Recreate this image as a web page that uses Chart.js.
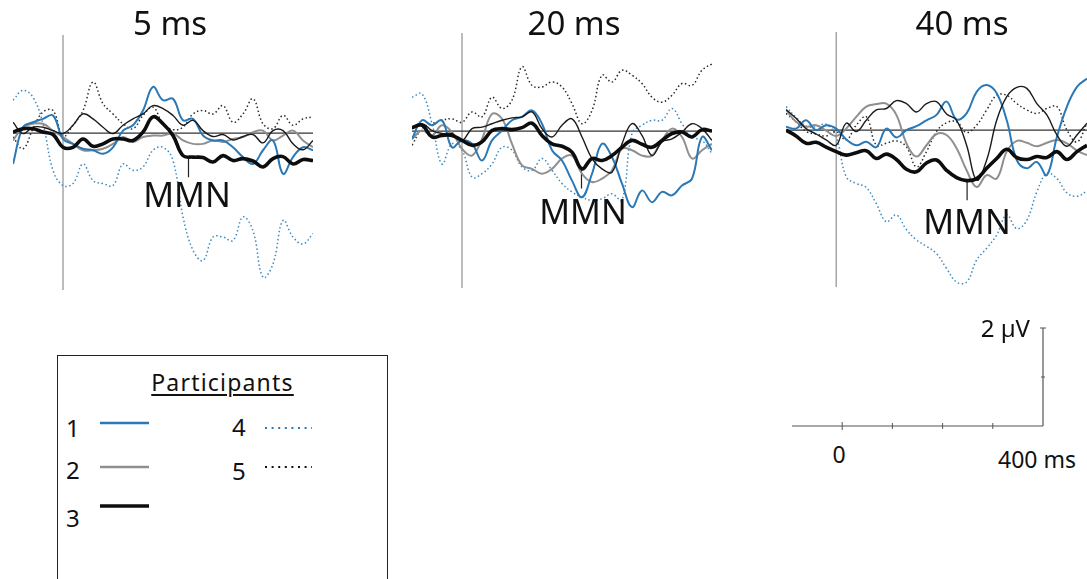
<!DOCTYPE html>
<html>
<head>
<meta charset="utf-8">
<script src="https://cdn.jsdelivr.net/npm/chart.js@4.4.1/dist/chart.umd.min.js"></script>
<style>
  body { margin: 0; width: 1087px; height: 579px; background: #fff; position: relative; overflow: hidden;
         font-family: "Noto Sans", "DejaVu Sans", sans-serif; color: #111; }
  canvas { position: absolute; }
  .lbl { position: absolute; white-space: nowrap; line-height: 1; }
  .title { font-size: 33px; transform: translateX(-50%); }
  .mmn { font-size: 34px; transform: translateX(-50%); }
  .legend { position: absolute; left: 57px; top: 355px; width: 329px; height: 240px; border: 1.3px solid #222; }
  .legend .lbl { font-size: 24px; }
  .legend svg { position: absolute; }
  .scale { font-size: 23px; }
</style>
</head>
<body>

<canvas id="panel0" width="300" height="255" style="left:13px; top:35px;"></canvas>
<canvas id="panel1" width="300" height="255" style="left:412px; top:33px;"></canvas>
<canvas id="panel2" width="301" height="255" style="left:786px; top:32px;"></canvas>
<canvas id="scalebar" width="272" height="118" style="left:782px; top:318px;"></canvas>

<div class="lbl title" style="left:170px; top:6px;">5 ms</div>
<div class="lbl title" style="left:574px; top:6px;">20 ms</div>
<div class="lbl title" style="left:962px; top:6px;">40 ms</div>

<div class="lbl mmn" style="left:187px; top:177px;">MMN</div>
<div class="lbl mmn" style="left:583px; top:194px;">MMN</div>
<div class="lbl mmn" style="left:967px; top:204px;">MMN</div>

<div class="lbl scale" style="right:57px; top:316px; font-size:24px;">2 µV</div>
<div class="lbl scale" style="left:839px; top:443px; transform:translateX(-50%);">0</div>
<div class="lbl scale" style="left:998px; top:448px;">400 ms</div>

<div class="legend">
  <div class="lbl" style="left:50%; top:15px; transform:translateX(-50%); font-size:23px; letter-spacing:1.2px; text-decoration:underline; text-underline-offset:3px;">Participants</div>
  <div class="lbl" style="left:8px; top:60px;">1</div>
  <div class="lbl" style="left:8px; top:102px;">2</div>
  <div class="lbl" style="left:8px; top:150px;">3</div>
  <div class="lbl" style="left:174px; top:59px;">4</div>
  <div class="lbl" style="left:174px; top:103px;">5</div>
  <svg style="left:42px; top:63px;" width="50" height="8"><line x1="0" y1="4" x2="49" y2="4" stroke="#2a78b6" stroke-width="2.6"/></svg>
  <svg style="left:42px; top:107px;" width="50" height="8"><line x1="0" y1="4" x2="49" y2="4" stroke="#8f8f8f" stroke-width="2.6"/></svg>
  <svg style="left:42px; top:146px;" width="50" height="8"><line x1="0" y1="4" x2="49" y2="4" stroke="#0d0d0d" stroke-width="3.4"/></svg>
  <svg style="left:206px; top:68px;" width="50" height="8"><line x1="1" y1="4" x2="48" y2="4" stroke="#2a78b6" stroke-width="2" stroke-dasharray="2 4.6"/></svg>
  <svg style="left:206px; top:107px;" width="50" height="8"><line x1="1" y1="4" x2="48" y2="4" stroke="#111" stroke-width="2" stroke-dasharray="2 4.6"/></svg>
</div>

<script>
// time axis (ms) shared by every waveform
const times = [-100, -80, -60, -40, -20, 0, 20, 40, 60, 80, 100, 120, 140, 160, 180, 200,
               220, 240, 260, 280, 300, 320, 340, 360, 380, 400, 420, 440, 460, 480, 500];

// 5 ms panel (µV)
const ms5_p1 = [-0.63, 0.12, 0.22, 0.29, 0.36, -0.12, -0.22, -0.32, -0.35, -0.42, -0.29, 0.05, 0.16, 0.46, 0.94, 0.67, 0.70, 0.26, 0.29, -0.05, -0.15, -0.15, -0.29, -0.49, -0.63, -0.35, -0.15, -0.83, -0.49, -0.29, -0.35];
const ms5_p2 = [-0.15, 0.12, 0.19, 0.19, 0.05, -0.08, -0.22, -0.35, -0.35, -0.32, -0.22, -0.08, -0.18, -0.08, -0.05, -0.05, -0.01, -0.15, -0.22, -0.22, -0.15, -0.18, -0.12, -0.08, 0.02, 0.05, -0.15, -0.05, 0.05, -0.15, -0.29];
const ms5_p3 = [0.02, 0.09, 0.09, 0.02, -0.03, -0.29, -0.29, -0.12, -0.27, -0.22, -0.12, -0.12, -0.15, 0.02, 0.33, 0.19, -0.05, -0.46, -0.49, -0.50, -0.59, -0.46, -0.56, -0.52, -0.57, -0.69, -0.52, -0.48, -0.63, -0.54, -0.56];
const ms5_thin = [0.22, -0.01, 0.12, 0.12, 0.05, -0.01, 0.16, 0.39, 0.29, 0.12, -0.01, 0.16, 0.29, 0.39, 0.56, 0.50, 0.36, 0.16, 0.26, 0.05, -0.07, -0.03, -0.14, -0.07, -0.03, -0.20, 0.05, 0.05, -0.22, -0.34, -0.15];
const ms5_p4 = [0.67, 0.87, 0.73, 0.19, -0.76, -1.07, -1.03, -0.63, -0.97, -1.03, -1.07, -0.63, -0.76, -0.69, -0.35, -0.29, -0.56, -1.71, -2.39, -2.60, -2.12, -2.12, -2.19, -1.71, -1.99, -2.94, -2.67, -1.78, -2.12, -2.26, -2.05];
const ms5_p5 = [-0.08, -0.32, 0.09, 0.43, 0.46, -0.07, 0.16, 0.46, 1.04, 0.60, 0.39, 0.19, 0.09, 0.36, 0.53, 0.19, 0.07, 0.12, 0.39, 0.46, 0.39, 0.56, 0.22, 0.39, 0.70, 0.19, 0.09, 0.36, 0.16, 0.29, 0.33];

// 20 ms panel
const ms20_p1 = [-0.16, 0.22, 0.12, 0.22, -0.33, -0.19, -0.26, -0.60, -0.19, 0.01, 0.22, 0.29, 0.42, 0.15, -0.39, -0.60, -1.01, -1.35, -0.87, -0.26, -0.53, -1.07, -1.55, -1.21, -1.45, -1.24, -1.31, -1.11, -0.97, -0.12, -0.39];
const ms20_p2 = [-0.16, 0.01, -0.09, 0.12, -0.02, -0.36, -0.50, -0.16, 0.35, 0.25, -0.26, -0.70, -0.77, -0.87, -0.77, -0.56, -0.50, -0.87, -1.04, -0.97, -0.80, -0.36, -0.39, -0.50, -0.50, -0.19, 0.05, -0.12, -0.56, -0.39, -0.26];
const ms20_p3 = [0.07, 0.12, -0.12, -0.09, -0.09, -0.19, -0.29, -0.22, 0.01, 0.05, 0.03, 0.07, 0.16, -0.09, -0.26, -0.31, -0.43, -0.77, -0.56, -0.60, -0.50, -0.33, -0.19, -0.27, -0.33, -0.19, -0.05, -0.02, -0.12, 0.03, 0.00];
const ms20_thin = [0.05, 0.15, 0.01, -0.05, -0.05, -0.19, 0.05, 0.08, 0.15, 0.22, 0.27, 0.29, 0.39, 0.05, -0.12, 0.12, 0.25, -0.12, -0.56, -0.77, -0.84, -0.26, 0.15, -0.09, -0.50, -0.22, -0.16, -0.02, 0.15, 0.05, -0.19];
const ms20_p4 = [0.69, 0.76, 0.15, -0.67, -0.26, -0.39, -0.94, -0.87, -0.67, -0.33, -0.39, -0.73, -0.80, -0.56, -0.80, -1.07, -1.24, -1.35, -1.41, -1.38, -1.28, -1.41, -0.05, 0.12, 0.22, 0.22, 0.46, 0.15, -0.12, -0.19, -0.46];
const ms20_p5 = [-0.29, 0.05, 0.15, 0.22, 0.25, 0.18, 0.39, 0.29, 0.69, 0.46, 0.63, 1.31, 0.93, 0.90, 1.00, 0.90, 0.56, 0.15, 0.42, 1.14, 1.00, 1.24, 1.14, 0.97, 0.69, 0.59, 0.73, 0.97, 0.93, 1.24, 1.37];

// 40 ms panel
const ms40_p1 = [0.07, 0.03, 0.20, 0.00, 0.10, 0.03, -0.19, -0.31, -0.24, -0.35, 0.03, -0.15, 0.00, 0.08, 0.20, 0.31, 0.58, 0.22, 0.34, 0.78, 0.92, 0.75, 0.20, -0.61, -0.78, -0.65, -0.92, -0.14, 0.48, 0.88, 1.05];
const ms40_p2 = [0.41, 0.17, 0.07, 0.10, -0.01, -0.12, 0.03, 0.27, 0.48, 0.53, 0.54, 0.31, -0.27, -0.54, -0.31, -0.08, -0.10, -0.37, -0.82, -1.16, -0.92, -0.99, -0.44, -0.22, -0.26, -0.33, -0.26, -0.20, -0.27, -0.42, -0.51];
const ms40_p3 = [0.00, -0.12, -0.27, -0.25, -0.35, -0.44, -0.51, -0.46, -0.42, -0.58, -0.49, -0.60, -0.80, -0.85, -0.67, -0.61, -0.82, -0.97, -1.03, -0.99, -0.78, -0.58, -0.39, -0.56, -0.60, -0.54, -0.56, -0.44, -0.60, -0.44, -0.31];
const ms40_thin = [0.42, 0.24, 0.03, -0.08, -0.20, -0.31, 0.14, -0.03, 0.20, 0.41, 0.44, 0.60, 0.54, 0.37, 0.54, 0.58, 0.33, 0.20, -0.31, -1.02, -0.61, 0.20, 0.68, 0.87, 0.85, 0.54, 0.31, -0.10, -0.33, -0.10, 0.14];
const ms40_p4 = [0.48, 0.26, 0.08, 0.07, 0.12, -0.14, -0.95, -1.09, -1.17, -1.50, -1.87, -1.73, -2.03, -2.24, -2.37, -2.52, -2.82, -3.10, -3.10, -2.65, -2.41, -2.14, -1.73, -2.01, -1.84, -1.26, -0.88, -0.99, -1.28, -1.35, -1.24];
const ms40_p5 = [0.34, 0.17, -0.03, -0.08, -0.12, -0.03, -0.20, 0.10, 0.27, -0.31, -0.27, -0.22, -0.34, -0.75, -0.44, -0.03, 0.15, 0.17, -0.05, 0.10, 0.41, 0.71, 0.71, 0.54, 0.41, 0.34, 0.44, 0.48, 0.00, -0.24, 0.14];

// MMN marker: latency (ms) and extent of the little tick (µV)
const mmnLatency = [251, 239, 261];
const mmnTickTop = [-0.50, -0.76, -1.06];
const mmnTickBottom = [-0.90, -1.17, -1.43];

// scale bar
const scaleTicks = [0, 100, 200, 300];
const scaleRange = [-100, 400];
const scaleAmp = [0, 1, 2];

const yMin = -3.2, yMax = 2;

const STYLE = {
    p1: { borderColor: '#2a78b6', borderWidth: 2 },
    p2: { borderColor: '#8f8f8f', borderWidth: 2 },
    p3: { borderColor: '#0d0d0d', borderWidth: 3.6 },
    thin: { borderColor: '#1a1a1a', borderWidth: 1.4 },
    p4: { borderColor: '#3a8ac2', borderWidth: 1.5, borderDash: [1.5, 2.5] },
    p5: { borderColor: '#2a2a2a', borderWidth: 1.5, borderDash: [1.5, 2.5] }
};

function wave(values, style) {
    return Object.assign({
        data: values.map((v, i) => ({ x: times[i], y: v })),
        pointRadius: 0, tension: 0.4, fill: false, clip: false
    }, style);
}

function segment(points, color, width) {
    return { data: points, borderColor: color, borderWidth: width, pointRadius: 0, tension: 0, clip: false };
}

const baseOptions = (xmin, xmax, ymin, ymax, padding) => ({
    animation: false,
    responsive: false,
    devicePixelRatio: 1,
    events: [],
    layout: { padding: padding || 0 },
    plugins: { legend: { display: false }, tooltip: { enabled: false } },
    scales: {
        x: { type: 'linear', display: false, min: xmin, max: xmax },
        y: { type: 'linear', display: false, min: ymin, max: ymax }
    }
});

const panels = [
    [ms5_p1, ms5_p2, ms5_p3, ms5_thin, ms5_p4, ms5_p5],
    [ms20_p1, ms20_p2, ms20_p3, ms20_thin, ms20_p4, ms20_p5],
    [ms40_p1, ms40_p2, ms40_p3, ms40_thin, ms40_p4, ms40_p5]
];

panels.forEach((s, k) => {
    const [p1, p2, p3, thin, p4, p5] = s;
    // first dataset is drawn on top
    const datasets = [
        wave(p3, STYLE.p3),
        wave(thin, STYLE.thin),
        wave(p1, STYLE.p1),
        wave(p2, STYLE.p2),
        wave(p5, STYLE.p5),
        wave(p4, STYLE.p4),
        segment([{ x: mmnLatency[k], y: mmnTickTop[k] }, { x: mmnLatency[k], y: mmnTickBottom[k] }], '#222', 1.2),
        segment([{ x: times[0], y: 0 }, { x: times[times.length - 1], y: 0 }], '#333', 1.3),
        segment([{ x: 0, y: yMin }, { x: 0, y: yMax }], '#7a7a7a', 1)
    ];
    new Chart(document.getElementById('panel' + k), {
        type: 'line',
        data: { datasets },
        options: baseOptions(times[0], times[times.length - 1], yMin, yMax)
    });
});

// scale bar: 2 µV / 400 ms
new Chart(document.getElementById('scalebar'), {
    type: 'line',
    data: {
        datasets: [
            segment([{ x: scaleRange[0], y: 0 }, { x: scaleRange[1], y: 0 }], '#555', 1.2),
            segment([{ x: scaleRange[1], y: scaleAmp[0] }, { x: scaleRange[1], y: scaleAmp[2] }], '#555', 1.2),
            {
                data: scaleTicks.map(t => ({ x: t, y: 0 })), showLine: false, clip: false,
                pointStyle: 'line', rotation: 90, pointRadius: [4, 3, 3, 3], borderColor: '#555', borderWidth: 1
            },
            {
                data: scaleAmp.slice(1).map(a => ({ x: scaleRange[1], y: a })), showLine: false, clip: false,
                pointStyle: 'line', pointRadius: [2, 3], borderColor: '#555', borderWidth: 1
            }
        ]
    },
    options: baseOptions(scaleRange[0], scaleRange[1], 0, 2, { left: 10, right: 11, top: 10, bottom: 10 })
});
</script>
</body>
</html>
